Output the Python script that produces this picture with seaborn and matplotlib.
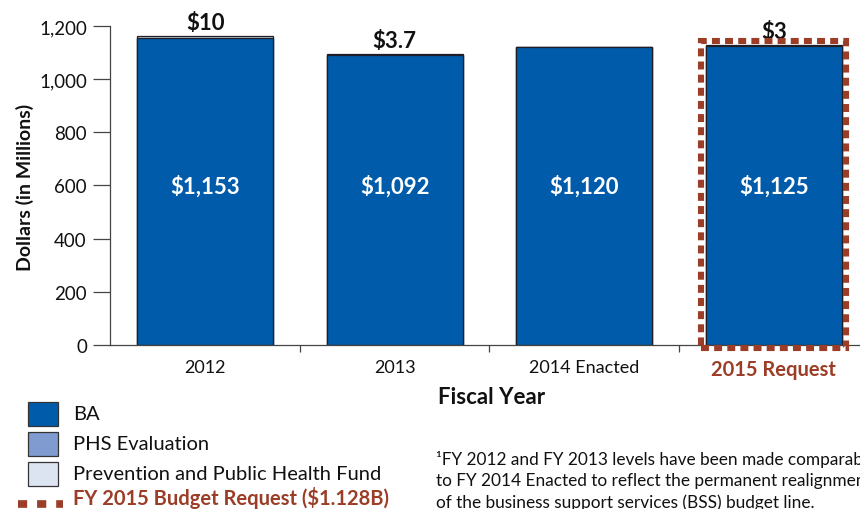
import matplotlib
matplotlib.use("Agg")
import matplotlib.pyplot as plt
import seaborn as sns
import numpy as np
import pandas as pd
from matplotlib.patches import Rectangle
from matplotlib.lines import Line2D

# ---- data ----
years = ["2012", "2013", "2014 Enacted", "2015 Request"]
ba = [1153, 1092, 1120, 1125]
phs_eval = [0, 0, 0, 0]
pphf = [10, 3.7, 0, 3]
ba_labels = ["$1,153", "$1,092", "$1,120", "$1,125"]
top_labels = ["$10", "$3.7", "", "$3"]
yticks = [0, 200, 400, 600, 800, 1000, 1200]
request_label = "FY 2015 Budget Request ($1.128B)"
legend_names = ["BA", "PHS Evaluation", "Prevention and Public Health Fund"]
footnote = ["\u00b9FY 2012 and FY 2013 levels have been made comparable",
            "to FY 2014 Enacted to reflect the permanent realignment",
            "of the business support services (BSS) budget line."]

C_BA = "#005BAA"
C_PHS = "#7F9BCF"
C_PPHF = "#DDE4F1"
C_RED = "#9C3D27"
C_EDGE = "#1E1E28"

sns.set_theme(style="white")
plt.rcParams["font.family"] = ["Lato", "DejaVu Sans"]

W, H = 860, 510
fig = plt.figure(figsize=(W / 100, H / 100), dpi=100)
ax_left, ax_right, ax_top, ax_bot = 110.5, 868.5, 27, 346
ax = fig.add_axes([ax_left / W, 1 - ax_bot / H, (ax_right - ax_left) / W, (ax_bot - ax_top) / H])

df = pd.DataFrame({"year": years, "ba": ba, "phs": phs_eval, "pphf": pphf})
df["lvl2"] = df["ba"] + df["phs"]
df["lvl3"] = df["lvl2"] + df["pphf"]

common = dict(x="year", order=years, width=0.72, saturation=1,
              edgecolor=C_EDGE, linewidth=0.9, ax=ax)
sns.barplot(data=df, y="lvl3", color=C_PPHF, **common)
sns.barplot(data=df, y="lvl2", color=C_PHS, **common)
sns.barplot(data=df, y="ba", color=C_BA, **common)

ax.set_xlim(-0.5, 3.5)
ax.set_ylim(0, 1200)
ax.set_yticks(yticks)
ax.set_yticklabels([f"{v:,}" for v in yticks], fontsize=13.5, color="#111111")
ax.set_xticks(range(len(years)))
ax.set_xticklabels(years, fontsize=13, color="#111111")
ax.set_xticks([0.5, 1.5, 2.5], minor=True)
ax.tick_params(axis="x", which="major", length=0, pad=10)
ax.tick_params(axis="x", which="minor", length=5, width=0.9, color="#444444", direction="out", bottom=True)
ax.tick_params(axis="y", which="major", length=12, width=0.9, color="#444444", pad=5, left=True)
xt = ax.get_xticklabels()
xt[3].set_color(C_RED)
xt[3].set_fontweight("bold")
xt[3].set_fontsize(14.5)

for s in ["top", "right"]:
    ax.spines[s].set_visible(False)
for s in ["left", "bottom"]:
    ax.spines[s].set_color("#444444")
    ax.spines[s].set_linewidth(0.9)

ax.set_ylabel("Dollars (in Millions)", fontsize=14, fontweight="bold", color="#111111")
ax.yaxis.set_label_coords((25 - ax_left) / (ax_right - ax_left), (ax_bot - 187) / (ax_bot - ax_top))
ax.yaxis.label.set_va("center")
ax.set_xlabel("Fiscal Year", fontsize=16, fontweight="bold", color="#111111")
ax.xaxis.set_label_coords((492 - ax_left) / (ax_right - ax_left), (ax_bot - 398) / (ax_bot - ax_top))
ax.xaxis.label.set_va("center")

for i in range(len(years)):
    ax.text(i, 600, ba_labels[i], ha="center", va="center", color="white",
            fontsize=16, fontweight="bold")
    if top_labels[i]:
        ax.annotate(top_labels[i], (i, df["lvl3"][i]), xytext=(0, 9.5),
                    textcoords="offset points", ha="center", va="center",
                    fontsize=16, fontweight="bold", color="#111111")

# dashed request box
rect = Rectangle((2.614, -11), 3.381 - 2.614, 1143.6 + 11, fill=False,
                 edgecolor=C_RED, linewidth=4.4, linestyle=(0, (1.3, 0.85)),
                 clip_on=False, zorder=5)
rect.set_capstyle("butt")
ax.add_patch(rect)

# manual legend
box_y = [403, 433, 463]
for yb, col, name in zip(box_y, [C_BA, C_PHS, C_PPHF], legend_names):
    fig.patches.append(Rectangle((28 / W, 1 - (yb + 24) / H), 30 / W, 24 / H,
                                 facecolor=col, edgecolor="#333333", linewidth=0.9,
                                 transform=fig.transFigure, figure=fig))
    fig.text(73 / W, 1 - (yb + 12) / H, name, fontsize=14.5, va="center", ha="left", color="#111111")
fig.add_artist(Line2D([18 / W, 63 / W], [1 - 505 / H, 1 - 505 / H], color=C_RED,
                      linewidth=5.5, linestyle=(0, (1.2, 1.3)), solid_capstyle="butt",
                      dash_capstyle="butt", transform=fig.transFigure))
fig.text(73 / W, 1 - 498 / H, request_label, fontsize=14.5, fontweight="bold",
         va="center", ha="left", color=C_RED)

for k, line in enumerate(footnote):
    fig.text(436 / W, 1 - (460 + 21.5 * k) / H, line, fontsize=12.4, va="center",
             ha="left", color="#111111")

fig.savefig("out.png", dpi=100)
